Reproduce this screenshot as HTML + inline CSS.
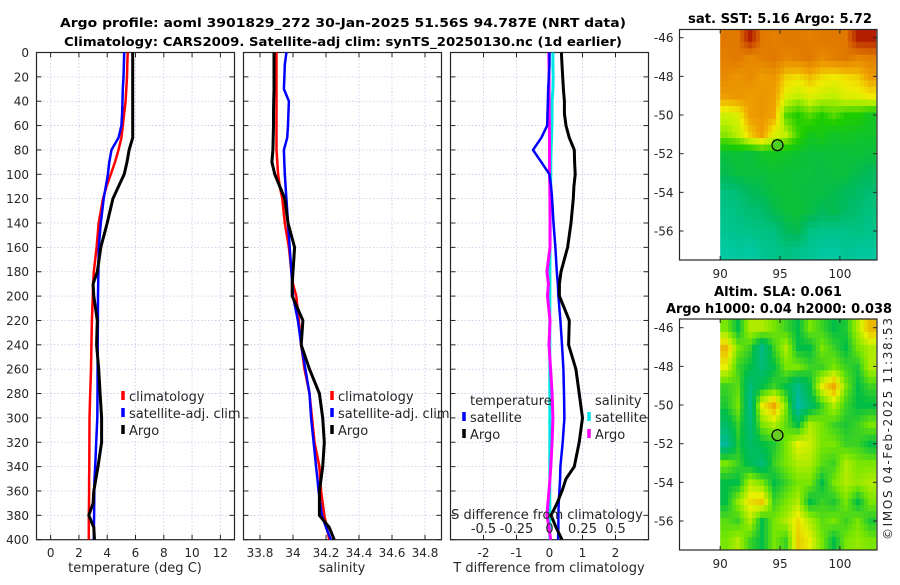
<!DOCTYPE html>
<html><head><meta charset="utf-8"><style>
body{margin:0;background:#fff;}
svg text{font-family:"DejaVu Sans","Liberation Sans",sans-serif;fill:#262626;}
.t{font-weight:bold;font-size:12.5px;fill:#000;}
.tm{font-weight:bold;font-size:13.5px;fill:#000;}
.tk{font-size:12px;}
</style></head><body>
<svg id="fig" width="900" height="580" xmlns="http://www.w3.org/2000/svg">
<text class="t" x="343" y="27" text-anchor="middle" textLength="566" lengthAdjust="spacingAndGlyphs">Argo profile: aoml 3901829_272 30-Jan-2025 51.56S 94.787E (NRT data)</text>
<text class="t" x="343" y="46" text-anchor="middle" textLength="558" lengthAdjust="spacingAndGlyphs">Climatology: CARS2009. Satellite-adj clim: synTS_20250130.nc (1d earlier)</text>
<text class="tm" x="780" y="23" text-anchor="middle" textLength="184" lengthAdjust="spacingAndGlyphs">sat. SST: 5.16 Argo: 5.72</text>
<text class="tm" x="778" y="296" text-anchor="middle" textLength="128" lengthAdjust="spacingAndGlyphs">Altim. SLA: 0.061</text>
<text class="tm" x="779" y="313" text-anchor="middle" textLength="226" lengthAdjust="spacingAndGlyphs">Argo h1000: 0.04 h2000: 0.038</text>
<text class="tk" transform="translate(892,540) rotate(-90)" textLength="222">©IMOS 04-Feb-2025 11:38:53</text>
</svg>
<script>
// ---- data ----
const depths=[0,10,20,30,40,50,60,70,80,90,100,110,120,140,160,180,190,200,220,240,260,280,300,320,340,350,360,370,380,390,400];
const tempArgo=[5.8,5.8,5.8,5.8,5.8,5.8,5.8,5.8,5.55,5.4,5.2,4.8,4.4,4.0,3.55,3.3,3.0,3.05,3.3,3.25,3.4,3.5,3.6,3.6,3.35,3.2,3.05,3.0,2.7,3.05,3.1];
const tempClim=[5.45,5.42,5.4,5.35,5.3,5.2,5.1,5.0,4.8,4.55,4.25,3.95,3.7,3.4,3.25,3.05,3.0,2.98,2.92,2.88,2.85,2.8,2.75,2.74,2.73,2.72,2.72,2.71,2.7,2.7,2.7];
const tempSat=[5.2,5.18,5.15,5.1,5.08,5.05,5.0,4.8,4.3,4.15,4.05,3.9,3.75,3.55,3.4,3.38,3.36,3.35,3.34,3.33,3.32,3.31,3.3,3.22,3.15,3.1,3.09,3.08,3.07,3.06,3.05];
const salArgo=[33.885,33.885,33.885,33.885,33.883,33.882,33.882,33.88,33.878,33.872,33.89,33.92,33.95,33.97,34.01,34.0,33.995,33.995,34.06,34.05,34.1,34.16,34.18,34.19,34.18,34.17,34.16,34.16,34.16,34.22,34.25];
const salClim=[33.9,33.9,33.9,33.9,33.9,33.9,33.9,33.9,33.9,33.905,33.91,33.92,33.935,33.95,33.975,33.99,34.0,34.02,34.035,34.05,34.07,34.1,34.115,34.13,34.16,34.165,34.17,34.18,34.19,34.205,34.22];
const salSat=[33.96,33.95,33.948,33.945,33.975,33.972,33.97,33.965,33.945,33.947,33.95,33.955,33.96,33.97,33.98,33.99,33.995,34.0,34.03,34.05,34.075,34.1,34.11,34.125,34.14,34.148,34.155,34.165,34.175,34.2,34.23];
const dtArgo=[0.36,0.38,0.4,0.42,0.45,0.45,0.5,0.6,0.75,0.76,0.78,0.74,0.72,0.65,0.55,0.35,0.3,0.3,0.6,0.58,0.8,0.9,1.0,0.9,0.75,0.5,0.38,0.23,0.05,0.2,0.38];
const dtSat=[0,0,-0.02,-0.04,-0.05,-0.06,-0.07,-0.25,-0.5,-0.25,0,0.05,0.08,0.12,0.18,0.22,0.25,0.27,0.33,0.38,0.42,0.44,0.45,0.4,0.33,0.32,0.3,0.28,0.27,0.27,0.26];
const dsSat=[0.026,0.026,0.028,0.026,0.02,0.02,0.018,0.015,0.012,0.01,0.01,0.008,0.006,0.005,0.004,0.003,0.003,0.003,0.002,0.002,0.002,0.002,0.002,0.002,0.002,0.002,0.002,0.002,0.002,0.002,0.003];
const dsArgo=[-0.005,-0.004,-0.003,-0.003,-0.002,-0.002,-0.001,0,0,0,0,0.002,0.003,0.004,0.004,-0.02,-0.008,-0.015,0.004,-0.004,0.008,0.02,0.026,0.02,0.01,0.004,-0.004,-0.012,-0.02,-0.004,0.008];
const depthTicks=[0,20,40,60,80,100,120,140,160,180,200,220,240,260,280,300,320,340,360,380,400];
const tempTicks=[0,2,4,6,8,10,12];
const salTicks=[33.8,34,34.2,34.4,34.6,34.8];
const salTickLabels=["33.8","34","34.2","34.4","34.6","34.8"];
const dtTicks=[-2,-1,0,1,2];
const dsTicks=[-0.5,-0.25,0,0.25,0.5];
const dsTickLabels=["-0.5","-0.25","0","0.25","0.5"];
const mapLonTicks=[90,95,100];
const mapLatTicks=[-46,-48,-50,-52,-54,-56];
const argoLon=94.787, argoLat=-51.56;
const sstGrid=[
[0.8,0.8,0.95,0.8,0.78,0.8,0.8,0.78,0.8,0.8,0.8,0.95,0.95],
[0.78,0.8,0.75,0.78,0.8,0.76,0.78,0.8,0.75,0.78,0.8,0.76,0.78],
[0.75,0.72,0.75,0.7,0.72,0.62,0.6,0.65,0.6,0.58,0.6,0.62,0.7],
[0.7,0.72,0.7,0.72,0.7,0.55,0.5,0.55,0.52,0.5,0.55,0.55,0.58],
[0.52,0.55,0.7,0.72,0.68,0.4,0.35,0.4,0.35,0.4,0.35,0.35,0.3],
[0.45,0.5,0.62,0.7,0.55,0.5,0.38,0.3,0.32,0.28,0.3,0.28,0.28],
[0.25,0.26,0.25,0.28,0.3,0.28,0.27,0.25,0.25,0.26,0.25,0.26,0.25],
[0.22,0.25,0.25,0.25,0.26,0.26,0.25,0.25,0.24,0.25,0.25,0.22,0.2],
[0.12,0.15,0.2,0.22,0.25,0.26,0.25,0.24,0.24,0.22,0.2,0.18,0.15],
[0.1,0.12,0.15,0.16,0.22,0.25,0.26,0.24,0.2,0.22,0.18,0.15,0.12],
[0.08,0.1,0.1,0.12,0.12,0.2,0.22,0.12,0.1,0.1,0.1,0.12,0.1],
[0.05,0.06,0.05,0.08,0.1,0.12,0.1,0.08,0.06,0.05,0.08,0.06,0.06]];
const slaGrid=[
[0.5,0.3,0.6,0.6,0.5,0.4,0.3,0.5,0.4,0.3,0.35,0.6,0.85],
[0.85,0.5,0.4,0.1,0.4,0.6,0.3,0.3,0.5,0.4,0.3,0.5,0.6],
[0.7,0.4,0.3,0.15,0.3,0.5,0.5,0.4,0.4,0.5,0.4,0.35,0.6],
[0.4,0.45,0.15,0.3,0.4,0.3,0.1,0.3,0.7,0.9,0.5,0.3,0.4],
[0.35,0.5,0.1,0.7,0.9,0.5,0.0,0.2,0.4,0.6,0.4,0.3,0.3],
[0.2,0.4,0.15,0.5,0.6,0.45,0.3,0.6,0.5,0.4,0.35,0.4,0.5],
[0.05,0.35,0.2,0.3,0.35,0.5,0.7,0.65,0.5,0.5,0.4,0.4,0.3],
[0.5,0.4,0.25,0.15,0.4,0.5,0.6,0.6,0.45,0.4,0.6,0.5,0.5],
[0.3,0.3,0.6,0.5,0.3,0.4,0.5,0.5,0.3,0.5,0.6,0.55,0.6],
[0.3,0.55,0.75,0.8,0.4,0.5,0.6,0.3,0.4,0.35,0.5,0.3,0.5],
[0.45,0.4,0.6,0.3,0.5,0.6,0.75,0.6,0.45,0.5,0.4,0.5,0.35],
[0.5,0.6,0.4,0.3,0.5,0.4,0.8,0.7,0.5,0.3,0.5,0.55,0.5]];

// ---- drawing ----
const NS="http://www.w3.org/2000/svg";
const svg=document.getElementById('fig');
function mk(tag,attrs,parent){const e=document.createElementNS(NS,tag);for(const k in attrs)e.setAttribute(k,attrs[k]);(parent||svg).appendChild(e);return e;}
const TOP=52.5,BOT=539.7;
const yD=d=>TOP+(BOT-TOP)*d/400;
function xs(x0,x1,v0,v1){return v=>x0+(x1-x0)*(v-v0)/(v1-v0);}
const P1={x0:36.5,x1:234.5},P2={x0:243.5,x1:441.5},P3={x0:450.5,x1:648.5};
const xT=xs(P1.x0,P1.x1,-1,13), xS=xs(P2.x0,P2.x1,33.7,34.9), xDT=xs(P3.x0,P3.x1,-3,3), xDS=xs(P3.x0,P3.x1,-0.75,0.75);

function panel(P,name,xticks,xfn,labels){
  const g=mk('g',{});
  
  
  xticks.forEach((v,i)=>{const x=xfn(v);
    const l=mk('line',{x1:x,x2:x,y1:TOP,y2:BOT,stroke:'#c8c8e8','stroke-width':0.8,'stroke-dasharray':'1.5,2'},g);
    
    mk('line',{x1:x,x2:x,y1:BOT,y2:BOT-5,stroke:'#262626'},g);
    mk('line',{x1:x,x2:x,y1:TOP,y2:TOP+5,stroke:'#262626'},g);
    if(labels){const t=mk('text',{x:x,y:557,'text-anchor':'middle',class:'tk'},g);t.textContent=labels[i];
      }
  });
  depthTicks.forEach(d=>{const y=yD(d);
    const l=mk('line',{x1:P.x0,x2:P.x1,y1:y,y2:y,stroke:'#c8c8e8','stroke-width':0.8,'stroke-dasharray':'1.5,2'},g);
    
    mk('line',{x1:P.x0,x2:P.x0+5,y1:y,y2:y,stroke:'#262626'},g);
    mk('line',{x1:P.x1,x2:P.x1-5,y1:y,y2:y,stroke:'#262626'},g);
  });
  mk('rect',{x:P.x0,y:TOP,width:P.x1-P.x0,height:BOT-TOP,fill:'none',stroke:'#262626','stroke-width':1.2},g);
  return g;
}
function prof(vals,xfn,color,w,name,P){
  const pts=vals.map((v,i)=>xfn(v).toFixed(1)+','+yD(depths[i]).toFixed(1)).join(' ');
  const cid='clip'+name;
  const cp=mk('clipPath',{id:cid});mk('rect',{x:P.x0,y:TOP,width:P.x1-P.x0,height:BOT-TOP},cp);
  const p=mk('polyline',{points:pts,fill:'none',stroke:color,'stroke-width':w,'stroke-linejoin':'round','clip-path':'url(#'+cid+')'});
  
  
}
function txt(x,y,s,name,cls,anchor){const t=mk('text',{x:x,y:y,class:cls||'tk','text-anchor':anchor||'start'});t.textContent=s;
  return t;}
function legend(x,y,color,label,name){
  const g=mk('g',{});
  
  
  mk('line',{x1:x,x2:x,y1:y-10,y2:y-1,stroke:color,'stroke-width':3.5},g);
  const t=mk('text',{x:x+6,y:y,class:'tk',style:'font-size:13px'},g);t.textContent=label;
}

// panel 1
panel(P1,'temperature-panel',tempTicks,xT,tempTicks.map(String));
depthTicks.forEach(d=>txt(29,yD(d)+4.5,String(d),'y-tick-label','tk','end'));
prof(tempClim,xT,'#ff0000',2.5,'temp-climatology-line',P1);
prof(tempSat,xT,'#0000ff',2.5,'temp-satellite-line',P1);
prof(tempArgo,xT,'#000000',3,'temp-argo-line',P1);
txt(135,572,'temperature (deg C)','temperature-axis-title','tk','middle').setAttribute('style','font-size:13px');
legend(123,401,'#ff0000','climatology','legend-climatology');
legend(123,418,'#0000ff','satellite-adj. clim','legend-satellite-adj');
legend(123,435,'#000000','Argo','legend-argo');

// panel 2
panel(P2,'salinity-panel',salTicks,xS,salTickLabels);
prof(salClim,xS,'#ff0000',2.5,'sal-climatology-line',P2);
prof(salSat,xS,'#0000ff',2.5,'sal-satellite-line',P2);
prof(salArgo,xS,'#000000',3,'sal-argo-line',P2);
txt(342,572,'salinity','salinity-axis-title','tk','middle').setAttribute('style','font-size:13px');
legend(332,401,'#ff0000','climatology','legend-sal-climatology');
legend(332,418,'#0000ff','satellite-adj. clim','legend-sal-satellite-adj');
legend(332,435,'#000000','Argo','legend-sal-argo');

// panel 3
panel(P3,'difference-panel',dtTicks,xDT,dtTicks.map(String));
const z=mk('line',{x1:xDT(0),x2:xDT(0),y1:TOP,y2:BOT,stroke:'#000','stroke-width':1,'stroke-dasharray':'1,2'});

prof(dsSat,xDS,'#00e5e5',3,'sal-diff-satellite-line',P3);
prof(dsArgo,xDS,'#ff00ff',3,'sal-diff-argo-line',P3);
prof(dtSat,xDT,'#0000ff',2.5,'temp-diff-satellite-line',P3);
prof(dtArgo,xDT,'#000000',3,'temp-diff-argo-line',P3);
txt(549,572,'T difference from climatology','t-diff-axis-title','tk','middle').setAttribute('style','font-size:13px');
txt(547,519,'S difference from climatology','s-diff-axis-title','tk','middle').setAttribute('style','font-size:13px');
dsTicks.forEach((v,i)=>txt(xDS(v),533,dsTickLabels[i],'s-diff-tick-label','tk','middle').setAttribute('style','font-size:13px'));
txt(470,405,'temperature','legend-title-temperature','tk').setAttribute('style','font-size:13px');
legend(464,422,'#0000ff','satellite','legend-temp-satellite');
legend(464,439,'#000000','Argo','legend-temp-argo');
txt(595,405,'salinity','legend-title-salinity','tk').setAttribute('style','font-size:13px');
legend(589,422,'#00e5e5','satellite','legend-sal-satellite');
legend(589,439,'#ff00ff','Argo','legend-sal-argo-diff');

// maps
function lerpC(stops,v){v=Math.max(0,Math.min(1,v));for(let i=1;i<stops.length;i++){if(v<=stops[i][0]){const a=stops[i-1],b=stops[i],t=(v-a[0])/(b[0]-a[0]);
  return 'rgb('+[1,2,3].map(k=>Math.round(a[k]+(b[k]-a[k])*t)).join(',')+')';}}return 'rgb('+stops[stops.length-1].slice(1).join(',')+')';}
const sstStops=[[0,0,205,185],[0.2,0,185,90],[0.35,30,205,0],[0.5,190,240,0],[0.58,240,235,0],[0.68,240,165,0],[0.8,225,120,0],[1,165,0,0]];
const slaStops=[[0,0,185,165],[0.3,0,190,70],[0.5,120,230,0],[0.7,230,240,0],[1,240,130,0]];
function sample(grid,r,c){
  const nr=grid.length,nc=grid[0].length;
  r=Math.max(0,Math.min(nr-1,r));c=Math.max(0,Math.min(nc-1,c));
  const r0=Math.floor(r),c0=Math.floor(c),r1=Math.min(nr-1,r0+1),c1=Math.min(nc-1,c0+1),fr=r-r0,fc=c-c0;
  return grid[r0][c0]*(1-fr)*(1-fc)+grid[r0][c1]*(1-fr)*fc+grid[r1][c0]*fr*(1-fc)+grid[r1][c1]*fr*fc;
}
function map(M,grid,stops,name,fill){
  const lon=xs(M.x0,M.x1,86.6,103.1), lat=v=>M.y46+(v+46)*(-(M.y56-M.y46)/10);
  const g=mk('g',{});
  
  
  const nr=grid.length,nc=grid[0].length,S=3;
  const latTop=-45.55,latBot=-57.5,dLat=(latTop-latBot)/(nr*S),dLon=13/(nc*S);
  for(let r=0;r<nr*S;r++)for(let c=0;c<nc*S;c++){
    const v=sample(grid,(r+0.5)/S-0.5,(c+0.5)/S-0.5);
    const x=lon(90+c*dLon),y=lat(latTop-r*dLat);
    const cell=mk('rect',{x:x,y:y,width:lon(90+(c+1)*dLon)-x+0.5,height:lat(latTop-(r+1)*dLat)-y+0.5,fill:lerpC(stops,v)},g);
    
    
  }
  mk('rect',{x:M.x0,y:M.y0,width:M.x1-M.x0,height:M.y1-M.y0,fill:'none',stroke:'#262626','stroke-width':1.2},g);
  mapLonTicks.forEach(v=>{const x=lon(v);mk('line',{x1:x,x2:x,y1:M.y1,y2:M.y1-4,stroke:'#262626'},g);mk('line',{x1:x,x2:x,y1:M.y0,y2:M.y0+4,stroke:'#262626'},g);
    const t=mk('text',{x:x,y:M.y1+18,'text-anchor':'middle',class:'tk'},g);t.textContent=String(v);});
  mapLatTicks.forEach(v=>{const y=lat(v);mk('line',{x1:M.x0,x2:M.x0+4,y1:y,y2:y,stroke:'#262626'},g);mk('line',{x1:M.x1,x2:M.x1-4,y1:y,y2:y,stroke:'#262626'},g);
    const t=mk('text',{x:M.x0-6,y:y+4.5,'text-anchor':'end',class:'tk'},g);t.textContent=String(v);});
  const c=mk('ellipse',{cx:lon(argoLon),cy:lat(argoLat),rx:5.5,ry:5.5,fill:fill,stroke:'#000','stroke-width':1.2},g);
  
  
}
map({x0:679.5,x1:877,y0:29.5,y1:260,y46:37.7,y56:231},sstGrid,sstStops,'sst-map','#4cd01e');
map({x0:679.5,x1:877,y0:319,y1:550,y46:327.7,y56:521},slaGrid,slaStops,'sla-map','#66cc22');
</script>
</body></html>
